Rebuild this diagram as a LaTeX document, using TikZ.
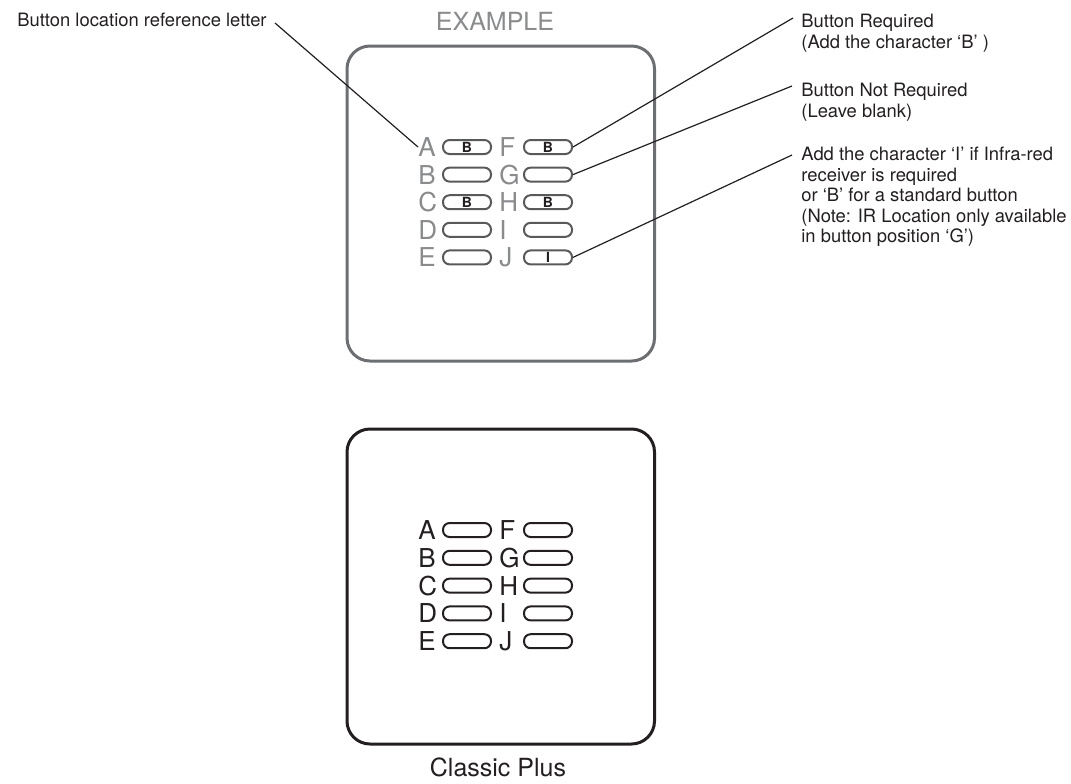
\documentclass[tikz,border=0pt]{standalone}
\usepackage{fontspec}
\setmainfont{TeX Gyre Heros}
\definecolor{ink}{HTML}{231F20}
\definecolor{boxgrey}{HTML}{6D6E71}
\definecolor{lettergrey}{HTML}{8A8B8D}
\definecolor{pillgrey}{HTML}{58595B}

\begin{document}
\begin{tikzpicture}[ x=0.5pt, y=-0.5pt,
  note/.style={ anchor=north west, align=left, inner sep=0pt, text=ink,
    font=\fontsize{9.2}{10.25}\selectfont },
  letter/.style={ anchor=west, inner sep=0pt,
    font=\fontsize{13}{13}\selectfont },
  pill/.style={ draw, line width=1pt, rounded corners=3.3pt, inner sep=0pt,
    minimum width=24pt, minimum height=7pt,
    font=\bfseries\fontsize{7}{7}\selectfont },
  panel/.style={ line width=1.5pt, rounded corners=11.5pt } ]
  \useasboundingbox (0,0) rectangle (1071,783);

  % the two face plates
  \draw [ panel, boxgrey ] (347,46) rectangle (654.5,361);
  \draw [ panel, ink ] (347,429) rectangle (654.5,744);
  \node (ex) [ text=lettergrey, font=\fontsize{12.5}{12.5}\selectfont ] at (495,21) {EXAMPLE};
  \node (cp) [ text=ink, font=\fontsize{12.5}{12.5}\selectfont ] at (498,767) {Classic Plus};

  % button grids
  \foreach \l/\r/\p/\q [count=\i from 0] in {A/F/B/B, B/G//, C/H/B/B, D/I//, E/J//I} {
    \node (e\l) [ letter, text=lettergrey ] at (418,{147+27.6*\i}) {\l};
    \node (ep\l) [ pill, pillgrey, text=ink ] at (467,{147+27.6*\i}) {\p};
    \node (e\r) [ letter, text=lettergrey ] at (499,{147+27.6*\i}) {\r};
    \node (ep\r) [ pill, pillgrey, text=ink ] at (548,{147+27.6*\i}) {\q};
    \node (c\l) [ letter, text=ink ] at (418,{530+27.8*\i}) {\l};
    \node (cp\l) [ pill, ink ] at (467,{530+27.8*\i}) {};
    \node (c\r) [ letter, text=ink ] at (499,{530+27.8*\i}) {\r};
    \node (cp\r) [ pill, ink ] at (548,{530+27.8*\i}) {};
  }

  % notes
  \node (ref) [ note, anchor=east ] at (267,20) {Button location reference letter};
  \node (req) [ note ] at (801,14) {Button Required\\(Add the character ‘B’ )};
  \node (nreq) [ note ] at (801,83) {Button Not Required\\(Leave blank)};
  \node (ir) [ note ] at (801,147) {Add the character ‘I’ if Infra-red\\receiver is required\\or ‘B’ for a standard button\\(Note: IR Location only available\\in button position ‘G’)};
  \coordinate (t1) at (793,18);
  \coordinate (t2) at (792,86);
  \coordinate (t3) at (792,155);

  \draw [ ink, line width=0.6pt ] ([xshift=4pt,yshift=-1.5pt]ref.east) to (eA.west);
  \draw [ ink, line width=0.6pt ] (t1) to (epF.east);
  \draw [ ink, line width=0.6pt ] (t2) to (epG.east);
  \draw [ ink, line width=0.6pt ] (t3) to (epJ.east);
\end{tikzpicture}
\end{document}
